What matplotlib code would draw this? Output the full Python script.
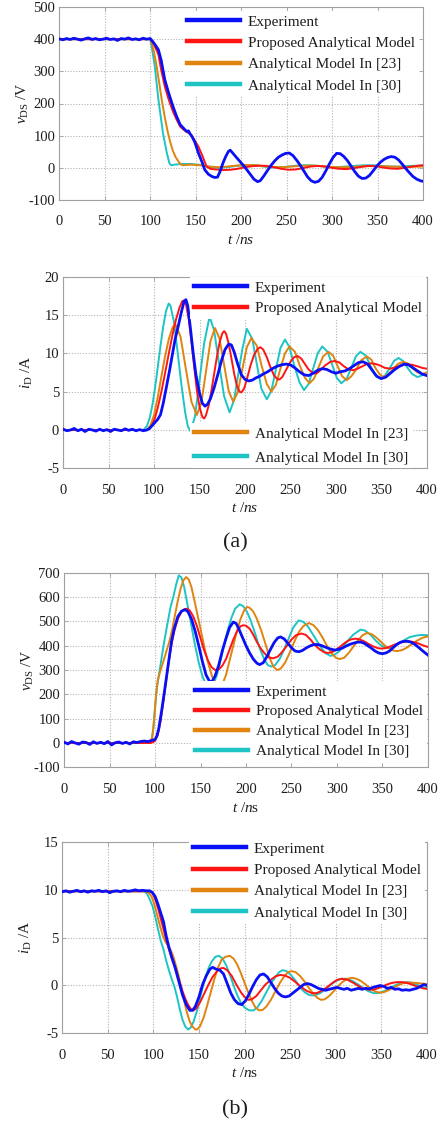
import matplotlib
matplotlib.use("Agg")
import matplotlib.pyplot as plt
from matplotlib.lines import Line2D

plt.rcParams["font.family"] = ["Liberation Serif", "DejaVu Serif"]
plt.rcParams["mathtext.fontset"] = "custom"
plt.rcParams["mathtext.rm"] = "Liberation Serif"
plt.rcParams["mathtext.it"] = "Liberation Serif:italic"
plt.rcParams["axes.unicode_minus"] = False

# ---------------------------------------------------------------- data
series_labels = ["Experiment", "Proposed Analytical Model",
                 "Analytical Model In [23]", "Analytical Model In [30]"]
x_ticks = [0, 50, 100, 150, 200, 250, 300, 350, 400]

# (a) turn-on: drain-source voltage, (t [ns], v [V])
a_vds_exp = [(0, 401), (4, 398), (8, 402), (12, 399), (16, 403), (20, 400), (24, 397), (28, 401),
             (32, 404), (36, 399), (40, 402), (44, 398), (48, 400), (52, 403), (56, 399), (60, 401),
             (64, 396), (68, 402), (72, 400), (76, 404), (80, 399), (84, 401), (88, 398), (92, 403),
             (96, 400), (100, 402), (103, 392), (106, 380), (109, 367), (112, 335), (116, 274),
             (120, 235), (125, 191), (129, 160), (133, 134), (136, 125), (140, 113), (142, 115),
             (144, 105), (146, 97), (149, 80), (153, 46), (157, 18), (160, -6), (164, -20), (168, -27),
             (171, -30), (174, -29), (177, -10), (180, 15), (183, 35), (186, 51), (188, 55), (191, 45),
             (194, 35), (198, 22), (202, 9), (206, -5), (210, -20), (214, -35), (218, -43), (221, -40),
             (225, -25), (229, -8), (233, 8), (237, 22), (241, 33), (245, 40), (249, 45), (253, 46),
             (257, 38), (261, 24), (265, 8), (269, -10), (273, -28), (277, -40), (281, -45), (285, -42),
             (289, -30), (293, -10), (297, 12), (301, 32), (305, 45), (309, 44), (313, 35), (317, 22),
             (321, 5), (325, -12), (329, -26), (333, -33), (337, -32), (341, -24), (345, -10), (349, 5),
             (353, 17), (357, 26), (361, 32), (365, 35), (369, 33), (373, 25), (377, 12), (381, -2),
             (385, -15), (389, -27), (393, -35), (397, -40), (400, -42)]
a_vds_prop = [(0, 400), (100, 400), (104, 385), (109, 352), (112, 305), (116, 253), (120, 215),
              (125, 175), (129, 150), (133, 128), (137, 118), (141, 110), (145, 103), (149, 85),
              (153, 66), (157, 40), (162, 4), (166, -3), (172, -5), (180, -7), (188, -6), (196, -3),
              (204, 2), (212, 5), (220, 7), (228, 6), (236, 2), (244, -3), (252, -6), (260, -5),
              (268, -1), (276, 4), (284, 6), (292, 4), (300, 0), (308, -3), (316, -4), (324, -1),
              (332, 3), (340, 6), (348, 5), (356, 1), (364, -2), (372, -3), (380, 0), (388, 4),
              (396, 7), (400, 8)]
a_vds_m23 = [(0, 400), (100, 400), (102, 385), (104, 362), (107, 316), (110, 262), (113, 205),
             (116, 158), (119, 115), (122, 80), (125, 52), (128, 33), (131, 20), (134, 10), (136, 8),
             (145, 10), (155, 8), (165, 4), (175, 2), (185, 4), (195, 7), (205, 9), (215, 8), (225, 5),
             (235, 2), (245, 2), (255, 4), (265, 6), (275, 7), (285, 6), (295, 4), (305, 2), (315, 2),
             (325, 3), (335, 5), (345, 6), (355, 5), (365, 4), (375, 3), (385, 3), (400, 4)]
a_vds_m30 = [(0, 400), (100, 400), (102, 370), (105, 316), (109, 212), (114, 108), (118, 50),
             (121, 15), (123, 8), (127, 10), (135, 12), (145, 12), (155, 9), (165, 3), (175, 0),
             (185, 2), (195, 6), (205, 9), (215, 8), (225, 4), (235, 1), (245, 2), (255, 5), (265, 8),
             (275, 8), (285, 6), (295, 3), (305, 2), (315, 4), (325, 6), (335, 8), (345, 8), (355, 6),
             (365, 4), (375, 4), (385, 6), (400, 7)]

# (a) turn-on: drain current, (t [ns], i [A])
a_id_exp = [(0, 0.1), (4, -0.1), (8, 0.0), (12, 0.2), (16, -0.1), (20, 0.1), (24, -0.2), (28, 0.1),
            (32, 0.0), (36, -0.15), (40, 0.1), (44, -0.1), (48, 0.05), (52, -0.2), (56, 0.1), (60, 0.0),
            (64, -0.1), (68, 0.15), (72, -0.05), (76, 0.1), (80, -0.1), (84, 0.05), (88, -0.1), (92, 0.0),
            (95, 0.2), (98, 0.6), (101, 1.0), (104, 1.4), (107, 2.0), (110, 3.5), (113, 5.3), (117, 7.8),
            (120, 9.8), (123, 11.8), (127, 13.8), (130, 15.4), (133, 16.8), (135, 17.0), (137, 16.2),
            (140, 13.2), (143, 10.0), (146, 7.2), (150, 4.8), (153, 3.5), (156, 3.1), (159, 3.4),
            (162, 4.1), (166, 5.5), (170, 7.2), (174, 9.0), (178, 10.5), (182, 11.2), (185, 11.1),
            (188, 10.2), (192, 8.6), (196, 7.2), (200, 6.6), (204, 6.4), (208, 6.5), (212, 6.8),
            (216, 7.0), (220, 7.3), (225, 7.6), (230, 8.0), (235, 8.3), (240, 8.5), (245, 8.6),
            (250, 8.5), (255, 8.1), (260, 7.6), (265, 7.2), (270, 7.1), (275, 7.4), (280, 7.8),
            (285, 8.0), (290, 7.9), (295, 7.6), (300, 7.4), (305, 7.6), (310, 7.7), (315, 8.0),
            (320, 8.4), (325, 8.8), (330, 8.9), (335, 8.6), (340, 7.8), (345, 7.0), (350, 6.7),
            (355, 6.9), (360, 7.4), (365, 7.9), (370, 8.3), (375, 8.6), (380, 8.5), (385, 8.1),
            (390, 7.7), (395, 7.3), (400, 7.1)]
a_id_prop = [(0, 0), (92, 0), (95, 0.2), (98, 0.7), (101, 1.6), (104, 2.9), (108, 5.0), (112, 7.4),
             (116, 9.9), (120, 12.3), (124, 14.4), (128, 16.0), (131, 16.8), (133, 16.9), (135, 16.4),
             (138, 14.5), (141, 11.6), (144, 8.3), (147, 5.2), (150, 3.0), (153, 1.7), (155, 1.5),
             (157, 1.9), (160, 3.2), (163, 5.1), (166, 7.3), (169, 9.5), (172, 11.4), (175, 12.6),
             (177, 12.9), (179, 12.6), (182, 11.3), (185, 9.4), (188, 7.4), (191, 5.8), (194, 5.0),
             (196, 4.9), (199, 5.4), (202, 6.6), (206, 8.4), (210, 9.8), (214, 10.6), (217, 10.8),
             (220, 10.5), (224, 9.5), (228, 8.2), (232, 7.1), (236, 6.6), (238, 6.6), (241, 6.9),
             (245, 7.8), (250, 8.9), (254, 9.5), (258, 9.65), (262, 9.3), (266, 8.6), (270, 7.9),
             (275, 7.4), (279, 7.4), (283, 7.8), (288, 8.4), (294, 8.9), (299, 9.0), (304, 8.8),
             (309, 8.3), (314, 7.9), (319, 7.8), (324, 8.0), (329, 8.3), (334, 8.6), (339, 8.7),
             (344, 8.6), (349, 8.4), (354, 8.1), (360, 8.0), (366, 8.2), (372, 8.4), (378, 8.6),
             (384, 8.5), (390, 8.3), (395, 8.1), (400, 8.0)]
a_id_m23 = [(0, 0), (92, 0.0), (96, 0.6), (100, 2.0), (104, 4.3), (108, 7.0), (112, 9.6), (116, 11.8),
            (120, 13.3), (123, 13.9), (129, 12.2), (135, 7.9), (141, 3.7), (147, 1.96), (152, 3.6),
            (157, 7.6), (162, 11.6), (167, 13.3), (172, 11.9), (177, 8.5), (182, 5.1), (187, 3.7),
            (192, 4.9), (197, 7.9), (202, 10.8), (207, 12.0), (213, 11.0), (218, 8.5), (224, 6.0),
            (229, 5.0), (234, 5.9), (239, 8.0), (244, 10.0), (249, 10.9), (255, 10.2), (260, 8.5),
            (266, 6.8), (271, 6.1), (276, 6.7), (281, 8.2), (286, 9.6), (292, 10.2), (297, 9.7),
            (302, 8.3), (307, 7.0), (312, 6.5), (317, 7.0), (323, 8.0), (328, 9.1), (334, 9.6),
            (339, 9.2), (343, 8.2), (348, 7.3), (352, 6.9), (357, 7.2), (363, 7.9), (368, 8.6),
            (374, 8.9), (379, 8.7), (384, 8.1), (390, 7.5), (395, 7.3), (400, 7.5)]
a_id_m30 = [(0, 0), (88, 0), (92, 0.5), (95, 1.5), (98, 3.2), (101, 5.5), (104, 8.2), (107, 11.0),
            (110, 13.5), (113, 15.5), (116, 16.5), (118, 16.2), (122, 14.0), (126, 10.0), (130, 5.9),
            (134, 2.4), (137, 0.5), (140, -0.2), (145, 1.8), (150, 6.5), (155, 11.3), (161, 14.8),
            (166, 13.0), (171, 9.0), (177, 4.4), (183, 2.3), (188, 3.9), (192, 6.9), (197, 10.5),
            (202, 13.2), (208, 11.9), (213, 8.6), (218, 5.4), (224, 4.0), (229, 5.1), (234, 7.9),
            (239, 10.7), (244, 11.8), (249, 10.8), (254, 8.5), (260, 6.2), (265, 5.2), (270, 6.0),
            (275, 8.0), (280, 10.0), (285, 10.9), (291, 10.2), (296, 8.5), (301, 6.8), (306, 6.1),
            (312, 6.7), (317, 8.1), (322, 9.6), (327, 10.2), (333, 9.7), (338, 8.4), (343, 7.2),
            (349, 6.7), (354, 7.1), (359, 8.0), (364, 9.0), (369, 9.4), (374, 9.0), (379, 8.1),
            (384, 7.3), (390, 6.9), (400, 7.4)]

# (b) turn-off: drain-source voltage
b_vds_exp = [(0, 3), (4, -4), (8, 6), (12, 0), (16, -5), (20, 4), (24, 2), (28, -6), (32, 5), (36, -2),
             (40, 3), (44, -3), (48, 6), (52, -8), (56, 1), (60, 4), (64, -2), (68, 3), (72, -4), (76, 5),
             (80, 2), (84, 6), (88, 8), (92, 6), (96, 10), (100, 15), (102, 30), (104, 60), (107, 129),
             (110, 205), (113, 285), (116, 365), (118, 417), (121, 470), (125, 520), (129, 542),
             (133, 548), (136, 540), (140, 510), (144, 460), (148, 400), (152, 335), (156, 280),
             (160, 252), (163, 255), (166, 275), (170, 320), (174, 380), (178, 430), (182, 475),
             (186, 497), (189, 492), (192, 470), (196, 435), (200, 400), (204, 370), (208, 345),
             (212, 328), (215, 322), (219, 330), (223, 355), (227, 385), (231, 413), (235, 432),
             (238, 436), (242, 428), (246, 410), (250, 392), (254, 378), (258, 375), (262, 380),
             (266, 390), (270, 398), (274, 404), (278, 405), (282, 402), (286, 396), (290, 390),
             (294, 385), (298, 382), (302, 385), (306, 390), (310, 398), (314, 405), (318, 410),
             (322, 414), (326, 415), (330, 410), (334, 400), (338, 390), (342, 378), (346, 370),
             (350, 367), (354, 370), (358, 378), (362, 392), (366, 405), (370, 414), (374, 418),
             (378, 418), (382, 414), (386, 405), (390, 393), (394, 380), (398, 368), (400, 362)]
b_vds_prop = [(0, 0), (95, 0), (98, 4), (100, 10), (103, 35), (106, 90), (109, 170), (112, 255),
              (115, 335), (118, 405), (121, 460), (125, 510), (129, 540), (132, 550), (135, 552),
              (138, 545), (142, 520), (146, 480), (150, 430), (154, 380), (158, 340), (162, 312),
              (166, 300), (170, 302), (174, 318), (178, 345), (182, 385), (186, 425), (190, 458),
              (194, 480), (197, 484), (200, 482), (204, 470), (208, 445), (212, 415), (216, 390),
              (220, 370), (225, 352), (230, 348), (235, 355), (240, 375), (245, 400), (250, 425),
              (255, 443), (261, 450), (266, 444), (271, 425), (276, 402), (281, 385), (286, 373),
              (290, 370), (295, 374), (300, 385), (305, 400), (310, 415), (315, 425), (320, 429),
              (325, 426), (330, 418), (335, 407), (340, 397), (345, 390), (349, 388), (354, 390),
              (359, 397), (364, 405), (370, 413), (377, 418), (383, 416), (389, 410), (395, 401),
              (400, 395)]
b_vds_m23 = [(0, 0), (92, 0), (95, 8), (97, 25), (99, 100), (101, 200), (103, 260), (106, 300),
             (109, 335), (112, 372), (116, 422), (119, 470), (122, 530), (125, 586), (128, 635),
             (131, 668), (134, 682), (137, 672), (140, 640), (143, 590), (147, 520), (151, 450),
             (155, 380), (159, 320), (163, 270), (167, 240), (170, 225), (174, 240), (178, 280),
             (182, 340), (186, 400), (190, 460), (194, 510), (198, 545), (201, 559), (204, 556),
             (208, 540), (212, 510), (217, 460), (222, 400), (226, 350), (230, 315), (234, 300),
             (238, 305), (243, 330), (248, 370), (253, 415), (258, 455), (263, 480), (269, 493),
             (274, 485), (279, 465), (284, 435), (289, 400), (294, 370), (299, 350), (303, 345),
             (308, 350), (313, 370), (318, 395), (323, 420), (328, 442), (333, 452), (338, 448),
             (343, 435), (348, 418), (353, 400), (358, 387), (363, 379), (367, 378), (372, 382),
             (377, 392), (382, 405), (388, 420), (394, 432), (400, 438)]
b_vds_m30 = [(0, 0), (94, 0), (96, 10), (98, 60), (100, 150), (102, 230), (105, 300), (109, 395),
             (113, 480), (117, 560), (120, 600), (123, 650), (126, 689), (129, 680), (132, 640),
             (136, 560), (140, 480), (144, 400), (148, 330), (152, 275), (156, 240), (160, 228),
             (164, 240), (168, 280), (172, 340), (176, 405), (180, 465), (184, 515), (188, 552),
             (193, 570), (197, 562), (201, 540), (205, 505), (210, 450), (215, 390), (220, 345),
             (224, 320), (228, 314), (232, 320), (237, 345), (242, 385), (247, 430), (252, 475),
             (258, 504), (263, 498), (268, 480), (273, 450), (278, 420), (283, 390), (288, 368),
             (293, 358), (297, 362), (302, 375), (307, 395), (312, 420), (318, 445), (326, 466),
             (331, 462), (337, 445), (343, 420), (349, 400), (355, 390), (361, 395), (367, 407),
             (373, 420), (380, 435), (388, 442), (394, 444), (400, 443)]

# (b) turn-off: drain current
b_id_exp = [(0, 9.8), (4, 9.9), (8, 9.75), (12, 9.85), (16, 9.95), (20, 9.8), (24, 9.9), (28, 9.75),
            (32, 9.9), (36, 9.85), (40, 9.95), (44, 9.8), (48, 9.9), (52, 9.7), (56, 9.85), (60, 9.9),
            (64, 9.8), (68, 9.95), (72, 9.85), (76, 9.9), (80, 10.0), (84, 9.9), (88, 9.95), (92, 9.9),
            (96, 9.9), (99, 9.7), (102, 9.3), (105, 8.5), (108, 7.6), (111, 6.7), (114, 5.2), (117, 4.0),
            (120, 3.0), (124, 1.8), (128, 0.4), (132, -1.0), (136, -2.0), (140, -2.6), (143, -2.6),
            (146, -2.2), (150, -1.2), (154, 0.1), (158, 1.0), (162, 1.7), (165, 1.9), (169, 1.7),
            (173, 1.6), (177, 1.2), (181, 0.2), (185, -0.8), (189, -1.5), (193, -1.9), (197, -2.0),
            (201, -1.6), (205, -0.9), (209, -0.1), (213, 0.6), (217, 1.1), (221, 1.2), (225, 0.9),
            (229, 0.3), (233, -0.3), (237, -0.8), (241, -1.1), (245, -1.2), (249, -1.1), (253, -0.8),
            (257, -0.5), (261, -0.2), (265, 0.1), (269, 0.2), (273, 0.1), (277, -0.1), (281, -0.3),
            (285, -0.4), (289, -0.5), (293, -0.4), (297, -0.3), (301, -0.2), (305, -0.3), (309, -0.4),
            (313, -0.3), (317, -0.5), (321, -0.4), (325, -0.3), (329, -0.4), (333, -0.3), (337, -0.35),
            (341, -0.2), (345, -0.1), (349, 0.0), (353, -0.1), (357, -0.3), (361, -0.2), (365, -0.4),
            (369, -0.35), (373, -0.5), (377, -0.45), (381, -0.5), (385, -0.4), (389, -0.3),
            (393, -0.1), (397, 0.1), (400, 0.0)]
b_id_prop = [(0, 9.85), (96, 9.85), (99, 9.7), (102, 9.0), (105, 8.1), (108, 7.0), (111, 5.9),
             (114, 4.8), (117, 3.8), (120, 2.9), (124, 1.9), (128, 0.6), (132, -0.6), (135, -1.4),
             (138, -2.0), (141, -2.45), (144, -2.6), (147, -2.4), (151, -1.8), (155, -1.0), (160, 0.0),
             (165, 0.9), (170, 1.5), (174, 1.8), (177, 1.83), (181, 1.6), (186, 1.0), (191, 0.1),
             (196, -0.7), (200, -1.2), (204, -1.5), (208, -1.45), (213, -1.1), (218, -0.5), (223, 0.1),
             (229, 0.6), (234, 0.95), (239, 1.1), (244, 1.05), (250, 0.8), (256, 0.35), (262, -0.15),
             (268, -0.55), (274, -0.8), (279, -0.8), (285, -0.55), (291, -0.15), (297, 0.3), (302, 0.6),
             (307, 0.7), (313, 0.6), (319, 0.3), (325, -0.05), (331, -0.35), (337, -0.45), (343, -0.4),
             (349, -0.2), (355, 0.05), (361, 0.25), (367, 0.35), (373, 0.35), (379, 0.25), (385, 0.05),
             (391, -0.15), (396, -0.3), (400, -0.35)]
b_id_m23 = [(0, 9.85), (92, 9.85), (95, 9.7), (98, 9.3), (101, 8.5), (104, 7.4), (107, 6.3), (110, 5.3),
            (113, 4.6), (116, 4.2), (119, 3.7), (122, 3.0), (125, 2.0), (128, 0.9), (131, -0.4),
            (134, -1.7), (137, -2.9), (140, -3.8), (143, -4.3), (146, -4.6), (148, -4.6), (151, -4.3),
            (155, -3.4), (159, -2.1), (163, -0.7), (167, 0.7), (171, 1.9), (175, 2.7), (179, 3.0),
            (184, 3.1), (188, 2.8), (192, 2.2), (196, 1.3), (200, 0.3), (204, -0.7), (208, -1.6),
            (212, -2.3), (216, -2.6), (220, -2.55), (224, -2.2), (229, -1.5), (234, -0.6), (239, 0.3),
            (244, 1.0), (248, 1.4), (252, 1.5), (256, 1.4), (261, 1.0), (266, 0.4), (271, -0.3),
            (276, -0.9), (280, -1.3), (284, -1.5), (288, -1.45), (293, -1.1), (298, -0.6), (303, -0.05),
            (308, 0.4), (313, 0.7), (318, 0.8), (323, 0.7), (328, 0.45), (333, 0.1), (338, -0.3),
            (343, -0.6), (348, -0.75), (353, -0.7), (358, -0.5), (363, -0.25), (368, 0.0), (373, 0.2),
            (378, 0.3), (384, 0.3), (390, 0.25), (395, 0.2), (400, 0.15)]
b_id_m30 = [(0, 9.85), (90, 9.85), (93, 9.6), (96, 9.0), (99, 8.3), (102, 7.2), (105, 5.9), (108, 4.7),
            (111, 3.8), (114, 2.6), (117, 1.6), (120, 0.7), (123, -0.1), (126, -1.2), (129, -2.5),
            (132, -3.6), (135, -4.3), (138, -4.6), (141, -4.4), (144, -3.8), (148, -2.6), (152, -1.0),
            (156, 0.5), (160, 1.7), (164, 2.5), (168, 3.0), (172, 3.1), (176, 2.8), (180, 2.1),
            (184, 1.1), (188, 0.0), (192, -1.0), (196, -1.8), (200, -2.3), (205, -2.6), (210, -2.6),
            (214, -2.3), (219, -1.6), (224, -0.7), (229, 0.2), (234, 0.9), (238, 1.4), (242, 1.6),
            (246, 1.5), (251, 1.1), (256, 0.5), (261, -0.2), (266, -0.7), (271, -1.0), (277, -1.05),
            (283, -0.8), (289, -0.4), (295, 0.1), (300, 0.45), (306, 0.7), (312, 0.7), (318, 0.5),
            (324, 0.15), (330, -0.25), (336, -0.6), (342, -0.8), (347, -0.8), (353, -0.6), (359, -0.3),
            (365, 0.0), (371, 0.25), (377, 0.35), (383, 0.3), (389, 0.1), (395, -0.15), (400, -0.3)]

# ---------------------------------------------------------------- style
colors = ["#0a10f5", "#ff1414", "#e0830f", "#1ec4c4"]
widths = [2.0, 1.4, 1.4, 1.4]
zorders = [6, 5, 4, 3]
grid_col = "#b4b4b4"
frame_col = "#a0a0a0"
text_col = "#1e1e1e"
FS = 10.5

W, H = 440, 1124
fig = plt.figure(figsize=(W / 100, H / 100), dpi=100)


def rect(l, t, r, b):
    return [l / W, 1 - b / H, (r - l) / W, (b - t) / H]


def fig_pt(x, y):
    return (x / W, 1 - y / H)


def panel(box, curves, ylim, yticks, ylabel, xlabel):
    ax = fig.add_axes(rect(*box))
    for pts, c, lw, z in zip(curves, colors, widths, zorders):
        t = [p[0] for p in pts]
        v = [p[1] for p in pts]
        ax.plot(t, v, color=c, lw=lw, zorder=z, solid_joinstyle="round")
    ax.set_xlim(0, 400)
    ax.set_ylim(*ylim)
    ax.set_xticks(x_ticks)
    ax.set_yticks(yticks)
    ax.grid(True, linestyle=(0, (1, 1.5)), color=grid_col, lw=0.8)
    ax.set_axisbelow(True)
    for s in ax.spines.values():
        s.set_color(frame_col)
        s.set_linewidth(0.8)
    ax.tick_params(direction="in", top=True, right=True, length=3, width=0.6,
                   color=frame_col, labelsize=FS, labelcolor=text_col)
    ax.tick_params(axis="x", pad=11)
    ax.tick_params(axis="y", pad=3)
    ax.set_ylabel(ylabel, fontsize=FS + 0.5, color=text_col, va="center")
    ax.yaxis.set_label_coords(-0.1, 0.5)
    ax.set_xlabel(xlabel, fontsize=FS + 0.5, color=text_col, va="center")
    ax.xaxis.set_label_coords(0.5, -0.207)
    return ax


def legend(ax, idx, x, y, spacing):
    handles = [Line2D([0], [0], color=colors[i], lw=3.2) for i in idx]
    leg = ax.legend(handles, [series_labels[i] for i in idx], loc="upper left",
                    bbox_to_anchor=fig_pt(x, y), bbox_transform=fig.transFigure,
                    frameon=True, fancybox=False, framealpha=1, edgecolor="none",
                    facecolor="white", fontsize=FS + 0.5, handlelength=3.5,
                    handletextpad=0.5, labelspacing=spacing, borderpad=0.25,
                    borderaxespad=0)
    for txt in leg.get_texts():
        txt.set_color(text_col)
    leg.set_zorder(10)
    return leg


vds_label = r"$v_{\mathrm{DS}}$ /V"
id_label = r"$i_{\mathrm{D}}$ /A"

ax1 = panel((59.3, 7, 423, 200), [a_vds_exp, a_vds_prop, a_vds_m23, a_vds_m30],
            (-100, 500), range(-100, 501, 100), vds_label, r"$t$ /$ns$")
legend(ax1, [0, 1, 2, 3], 183, 11, 0.5)

ax2 = panel((63.3, 276.7, 426.7, 468.3), [a_id_exp, a_id_prop, a_id_m23, a_id_m30],
            (-5, 20), range(-5, 21, 5), id_label, r"$t$ /$ns$")
top = legend(ax2, [0, 1], 190, 277, 0.45)
ax2.add_artist(top)
legend(ax2, [2, 3], 190, 423, 0.68)

ax3 = panel((64.3, 572.7, 427.7, 767.3), [b_vds_exp, b_vds_prop, b_vds_m23, b_vds_m30],
            (-100, 700), range(-100, 701, 100), vds_label, r"$t$ /$n$s")
legend(ax3, [0, 1, 2, 3], 191, 681, 0.4)

ax4 = panel((62.3, 842, 426.7, 1033.3), [b_id_exp, b_id_prop, b_id_m23, b_id_m30],
            (-5, 15), range(-5, 16, 5), id_label, r"$t$ /$n$s")
legend(ax4, [0, 1, 2, 3], 189, 838, 0.5)

fig.text(*fig_pt(235, 543), "(a)", ha="center", va="center", fontsize=16, color=text_col)
fig.text(*fig_pt(235, 1110), "(b)", ha="center", va="center", fontsize=16, color=text_col)

fig.savefig("out.png", dpi=100, facecolor="white")
